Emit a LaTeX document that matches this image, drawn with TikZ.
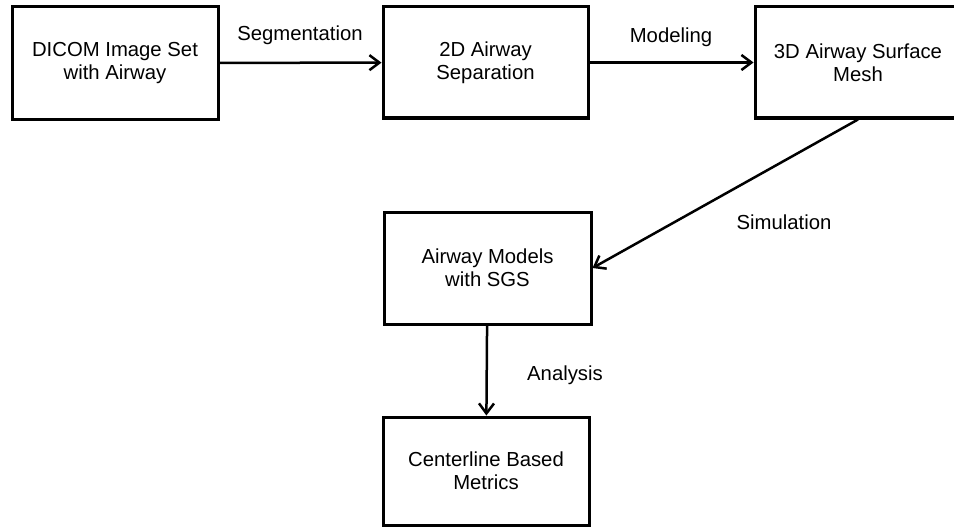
\documentclass[tikz,border=0pt]{standalone}
\usepackage{fontspec}
\setmainfont{Liberation Sans}
\usetikzlibrary{arrows.meta}
\begin{document}
\begin{tikzpicture}[x=1pt,y=-1pt,
  box/.style={draw,line width=3pt,minimum width=#1,align=center,inner sep=0pt,
    font=\fontsize{20.3}{23}\selectfont},
  flow/.style={line width=2.5pt,-{Straight Barb[length=10pt,width=15pt,line width=2.5pt]}},
  lbl/.style={font=\fontsize{20.3}{23}\selectfont,inner sep=0pt}]
\useasboundingbox (0,0) rectangle (954,527);
\clip (0,0) rectangle (954,527);
\node[box=206pt,minimum height=112pt] (b1) at (115,63) {DICOM Image Set\\with Airway};
\node[box=205pt,minimum height=111pt] (b2) at (485.5,62.5) {2D Airway\\Separation};
\node[box=206pt,minimum height=111pt] (b3) at (858,62.5) {3D Airway Surface\\Mesh};
\node[box=207pt,minimum height=112pt] (b4) at (487.5,268) {Airway Models\\with SGS};
\node[box=206pt,minimum height=108pt] (b5) at (486,471) {Centerline Based\\Metrics};
\draw[flow] (b1) -- (b2);
\draw[flow] (b2) -- (b3);
\draw[flow] (b3.south) -- (b4.east);
\draw[flow] (b4) -- (b5);
\node[lbl] (l1) at (300,35) {Segmentation};
\node[lbl] (l2) at (671,37) {Modeling};
\node[lbl] (l3) at (784,222) {Simulation};
\node[lbl] (l4) at (565,375) {Analysis};
\end{tikzpicture}
\end{document}
